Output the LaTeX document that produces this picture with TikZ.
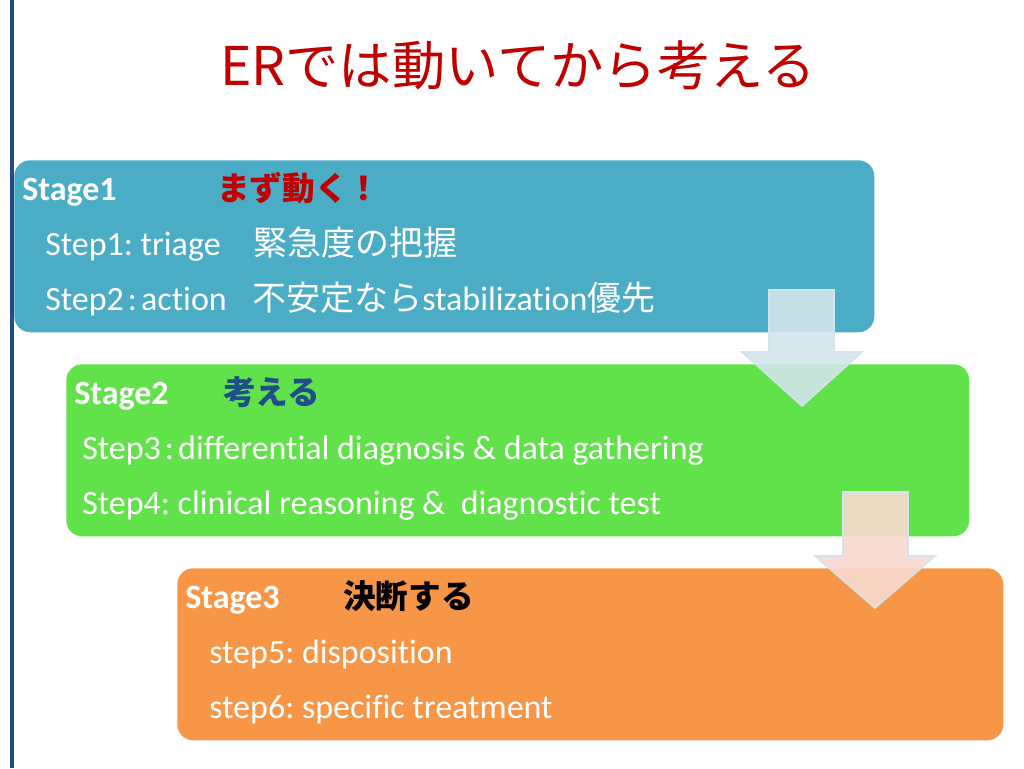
\documentclass[tikz,border=0pt]{standalone}
\usepackage{fontspec}
\setmainfont[Ligatures=NoCommon]{Carlito}
\newfontfamily\jp{Noto Sans CJK JP}
\definecolor{sBlue}{HTML}{4BACC6}
\definecolor{sGreen}{HTML}{62E24A}
\definecolor{sOrange}{HTML}{F79646}
\definecolor{tRed}{HTML}{C00000}
\definecolor{dBlue}{HTML}{1F4E8A}
\definecolor{lineBlue}{HTML}{254B85}
\definecolor{arrA}{HTML}{D3E5EB}
\definecolor{arrB}{HTML}{F9DAD0}
\definecolor{arrEdge}{HTML}{D3E5EC}
\newcommand{\cln}{\hspace{0.12em}:\hspace{0.12em}}
\tikzset{
  stagebox/.style={anchor=north west, rounded corners=12pt, inner sep=0pt},
  txt/.style={anchor=base west, inner sep=0pt, text=white, font=\fontsize{25.5}{30}\selectfont},
  head/.style={anchor=base west, inner sep=0pt, font=\fontsize{24.5}{30}\selectfont\jp\bfseries},
  blockarrow/.style={draw=arrEdge, line width=1.2pt, fill opacity=0.9, line join=miter}
}
\begin{document}
\frenchspacing
\begin{tikzpicture}[x=0.75pt, y=-0.75pt]
\useasboundingbox[fill=white] (0,0) rectangle (1024,768);
\draw[lineBlue, line width=3pt] (12,0) -- (12,768);
\node[anchor=center, inner sep=0pt, text=tRed, font=\fontsize{40}{46}\selectfont\jp] (title) at (518,65) {ERでは動いてから考える};

% boxes
\node[stagebox, fill=sBlue, minimum width=645pt, minimum height=129pt] (b1) at (14,160) {};
\node[stagebox, fill=sGreen, minimum width=677.25pt, minimum height=129pt] (b2) at (66,364) {};
\node[stagebox, fill=sOrange, minimum width=619.5pt, minimum height=129pt] (b3) at (177,568) {};

% stage 1
\node[txt, font=\fontsize{25.5}{30}\selectfont\bfseries] (s1) at (22,200) {Stage1};
\node[head, text=tRed] (h1) at (217,200) {まず動く！};
\node[txt] (t1) at (45,255) {Step1: triage};
\node[txt, font=\fontsize{25.5}{30}\selectfont\jp] (j1) at (253,255) {緊急度の把握};
\node[txt] (t2) at (45,310) {Step2\cln action};
\node[txt] (j2) at (252,310) {{\jp 不安定なら}stabilization{\jp 優先}};

% stage 2
\node[txt, font=\fontsize{25.5}{30}\selectfont\bfseries] (s2) at (74,404) {Stage2};
\node[head, text=dBlue] (h2) at (223,404) {考える};
\node[txt] (t3) at (82,459) {Step3\cln differential diagnosis \& data gathering};
\node[txt] (t4) at (82,514) {Step4: clinical reasoning \&\ \ diagnostic test};

% stage 3
\node[txt, font=\fontsize{25.5}{30}\selectfont\bfseries] (s3) at (185,608) {Stage3};
\node[head, text=black] (h3) at (343,608) {決断する};
\node[txt] (t5) at (209,663) {step5: disposition};
\node[txt] (t6) at (209,718) {step6: specific treatment};

% block arrows
\draw[blockarrow, fill=arrA] (769,290) -- (834,290) -- (834,352) -- (862,352) -- (802,406) -- (742,352) -- (769,352) -- cycle;
\draw[blockarrow, fill=arrB] (843,492) -- (908,492) -- (908,556) -- (935,556) -- (875,608) -- (815,556) -- (843,556) -- cycle;
\end{tikzpicture}
\end{document}
